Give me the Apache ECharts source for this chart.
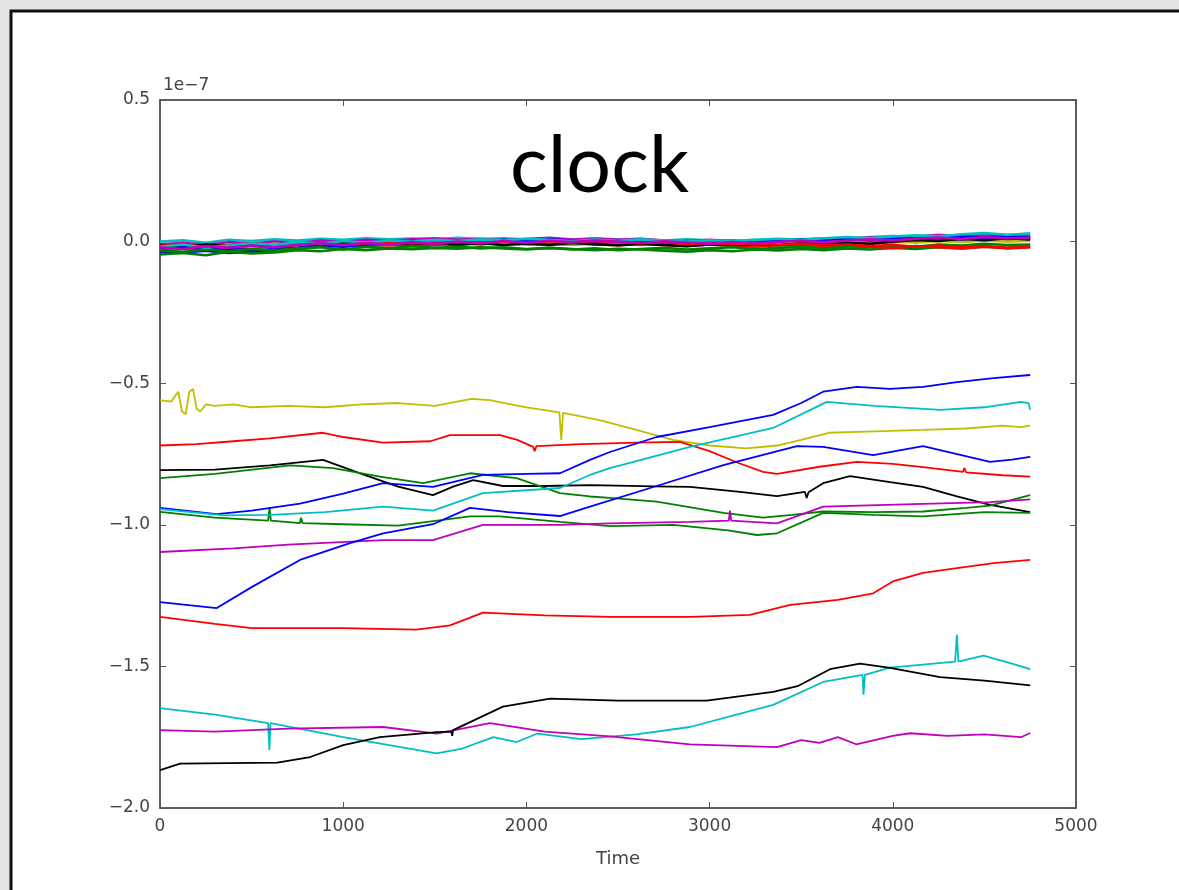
<!doctype html>
<html>
<head>
<meta charset="utf-8">
<title>clock</title>
<script src="https://cdn.jsdelivr.net/npm/echarts@6/dist/echarts.min.js"></script>
<style>
  html, body { margin: 0; padding: 0; background: #e4e4e6; }
  #main { width: 1179px; height: 890px; }
</style>
</head>
<body>
<div id="main"></div>
<script>
// values are in units of 1e-7
var xTicks = [0, 1000, 2000, 3000, 4000, 5000];
var yTicks = [-2.0, -1.5, -1.0, -0.5, 0.0, 0.5];

// time grid of the noisy band around zero
var bandTime = [0,125,250,375,500,625,750,875,1000,1125,1250,1375,1500,1625,1750,1875,2000,2125,2250,2375,
  2500,2625,2750,2875,3000,3125,3250,3375,3500,3625,3750,3875,4000,4125,4250,4375,4500,4625,4750];

var zb1 = [-0.035,-0.038,-0.032,-0.040,-0.036,-0.030,-0.024,-0.018,-0.012,-0.015,-0.010,-0.012,-0.008,-0.011,-0.006,-0.009,-0.004,-0.007,-0.010,-0.006,-0.008,-0.004,-0.009,-0.006,-0.003,-0.007,-0.004,-0.008,-0.012,-0.006,-0.003,0.002,-0.002,0.004,0.008,0.003,0.010,0.006,0.012];
var zg1 = [-0.045,-0.040,-0.048,-0.036,-0.042,-0.038,-0.030,-0.034,-0.026,-0.030,-0.024,-0.027,-0.022,-0.025,-0.020,-0.024,-0.028,-0.022,-0.026,-0.030,-0.025,-0.028,-0.032,-0.036,-0.030,-0.034,-0.028,-0.031,-0.026,-0.030,-0.024,-0.028,-0.022,-0.026,-0.020,-0.024,-0.018,-0.022,-0.016];
var zr1 = [-0.020,-0.025,-0.018,-0.028,-0.022,-0.015,-0.020,-0.012,-0.017,-0.010,-0.014,-0.008,-0.012,-0.006,-0.010,-0.004,-0.008,-0.011,-0.006,-0.010,-0.013,-0.008,-0.012,-0.015,-0.010,-0.014,-0.018,-0.012,-0.016,-0.020,-0.014,-0.018,-0.022,-0.016,-0.020,-0.024,-0.018,-0.022,-0.019];
var zc1 = [0.000,0.005,-0.004,0.006,0.002,0.008,0.004,0.010,0.006,0.012,0.008,0.011,0.007,0.013,0.009,0.012,0.008,0.010,0.006,0.011,0.007,0.009,0.004,0.008,0.005,0.002,0.006,0.003,0.008,0.012,0.010,0.016,0.020,0.018,0.024,0.020,0.026,0.022,0.028];
var zm1 = [-0.010,-0.004,-0.012,-0.002,-0.008,0.000,-0.006,0.004,-0.002,0.006,0.002,0.008,0.012,0.006,0.010,0.004,0.009,0.013,0.007,0.011,0.006,0.010,0.004,0.001,0.006,0.002,-0.002,0.003,0.000,0.006,0.010,0.014,0.012,0.018,0.022,0.016,0.024,0.020,0.018];
var zy1 = [-0.025,-0.015,-0.022,-0.010,-0.018,-0.008,-0.014,-0.005,-0.010,-0.003,-0.008,-0.002,-0.006,0.000,-0.004,-0.008,-0.002,-0.006,-0.010,-0.004,-0.008,-0.012,-0.006,-0.010,-0.004,-0.008,-0.012,-0.007,-0.002,-0.006,-0.001,-0.005,0.000,-0.004,0.002,-0.002,0.004,0.000,0.003];
var zk1 = [-0.012,-0.018,-0.010,-0.016,-0.008,-0.014,-0.006,-0.012,-0.004,-0.010,-0.002,-0.008,-0.004,-0.010,-0.006,-0.012,-0.007,-0.011,-0.005,-0.009,-0.013,-0.008,-0.012,-0.016,-0.010,-0.014,-0.009,-0.013,-0.006,-0.010,-0.004,-0.008,0.000,0.006,0.002,0.010,0.005,0.012,0.008];
var zb2 = [-0.028,-0.020,-0.030,-0.024,-0.032,-0.026,-0.022,-0.014,-0.018,-0.010,-0.004,0.002,-0.003,0.004,0.000,0.006,0.002,0.008,0.004,0.000,0.005,0.001,-0.003,0.002,-0.002,0.003,-0.001,0.004,0.008,0.004,0.010,0.006,0.012,0.016,0.011,0.018,0.014,0.020,0.016];
var zg2 = [-0.030,-0.036,-0.028,-0.034,-0.026,-0.032,-0.024,-0.020,-0.028,-0.018,-0.024,-0.016,-0.022,-0.018,-0.024,-0.020,-0.026,-0.022,-0.028,-0.024,-0.030,-0.026,-0.022,-0.028,-0.024,-0.020,-0.026,-0.022,-0.018,-0.024,-0.016,-0.020,-0.014,-0.018,-0.010,-0.014,-0.008,-0.012,-0.010];
var zr2 = [-0.015,-0.008,-0.020,-0.012,-0.006,-0.016,-0.010,-0.004,-0.012,-0.006,0.000,-0.006,-0.002,0.004,-0.002,0.002,-0.004,0.001,-0.003,0.002,-0.002,-0.006,-0.002,-0.008,-0.004,-0.010,-0.006,-0.012,-0.008,-0.014,-0.010,-0.016,-0.012,-0.018,-0.014,-0.020,-0.016,-0.024,-0.020];
var zc2 = [-0.018,-0.010,-0.022,-0.014,-0.006,-0.012,-0.002,-0.008,0.002,-0.004,0.004,0.000,0.006,0.002,0.008,0.004,0.010,0.006,0.002,0.007,0.003,0.008,0.004,0.000,0.005,0.001,0.006,0.010,0.006,0.012,0.016,0.012,0.018,0.022,0.018,0.026,0.030,0.024,0.028];
var zm2 = [-0.020,-0.026,-0.016,-0.022,-0.014,-0.020,-0.012,-0.006,-0.012,-0.004,-0.010,-0.002,-0.008,0.000,-0.006,0.002,-0.004,0.003,-0.002,0.004,0.000,-0.004,0.001,-0.003,-0.007,-0.002,-0.006,-0.001,0.003,-0.002,0.004,0.008,0.004,0.010,0.014,0.009,0.016,0.012,0.014];

// the separate drifting clocks, [time, value]
var yellow1 = [[0,-0.56],[60,-0.565],[100,-0.53],[120,-0.60],[140,-0.61],[160,-0.53],[180,-0.52],[200,-0.59],[220,-0.60],[250,-0.575],[300,-0.58],[400,-0.575],[500,-0.585],[700,-0.58],[900,-0.585],[1100,-0.575],[1300,-0.57],[1500,-0.58],[1700,-0.555],[1800,-0.56],[2000,-0.585],[2180,-0.603],[2190,-0.70],[2200,-0.605],[2400,-0.63],[2600,-0.665],[2800,-0.70],[3000,-0.72],[3200,-0.73],[3370,-0.72],[3500,-0.70],[3650,-0.675],[3900,-0.67],[4165,-0.665],[4400,-0.66],[4600,-0.65],[4700,-0.655],[4750,-0.65]];
var red1 = [[0,-0.72],[200,-0.715],[400,-0.705],[600,-0.695],[890,-0.675],[1000,-0.69],[1218,-0.71],[1475,-0.705],[1583,-0.683],[1856,-0.683],[1950,-0.70],[2037,-0.725],[2045,-0.74],[2055,-0.722],[2300,-0.715],[2600,-0.71],[2838,-0.707],[3000,-0.74],[3150,-0.78],[3292,-0.813],[3368,-0.82],[3600,-0.795],[3804,-0.778],[4000,-0.785],[4165,-0.796],[4383,-0.813],[4390,-0.80],[4400,-0.815],[4600,-0.825],[4750,-0.83]];
var black1 = [[0,-0.807],[300,-0.805],[600,-0.79],[890,-0.771],[1100,-0.82],[1300,-0.865],[1490,-0.895],[1600,-0.865],[1710,-0.842],[1872,-0.863],[2100,-0.863],[2347,-0.86],[2700,-0.864],[2893,-0.866],[3166,-0.884],[3368,-0.899],[3520,-0.884],[3530,-0.905],[3540,-0.885],[3620,-0.853],[3766,-0.828],[3985,-0.849],[4165,-0.866],[4350,-0.9],[4531,-0.93],[4750,-0.955]];
var green1 = [[0,-0.835],[300,-0.82],[710,-0.79],[945,-0.80],[1200,-0.83],[1436,-0.853],[1692,-0.818],[1947,-0.835],[2183,-0.888],[2347,-0.9],[2456,-0.905],[2711,-0.918],[3075,-0.958],[3292,-0.975],[3450,-0.965],[3620,-0.953],[3900,-0.955],[4165,-0.953],[4400,-0.94],[4531,-0.932],[4750,-0.895]];
var green2 = [[0,-0.954],[300,-0.975],[590,-0.985],[598,-0.94],[605,-0.985],[764,-0.994],[770,-0.975],[778,-0.994],[1000,-0.998],[1300,-1.003],[1692,-0.97],[1856,-0.97],[2183,-0.99],[2456,-1.005],[2803,-1.0],[3100,-1.02],[3258,-1.036],[3368,-1.03],[3620,-0.958],[3900,-0.965],[4165,-0.97],[4500,-0.955],[4750,-0.958]];
var blue1 = [[0,-0.94],[310,-0.962],[500,-0.95],[764,-0.925],[1000,-0.89],[1218,-0.853],[1490,-0.866],[1763,-0.824],[2000,-0.82],[2183,-0.818],[2347,-0.771],[2456,-0.743],[2711,-0.69],[3000,-0.655],[3347,-0.612],[3500,-0.57],[3620,-0.53],[3804,-0.513],[3985,-0.52],[4165,-0.513],[4350,-0.496],[4550,-0.482],[4750,-0.471]];
var cyan1 = [[0,-0.945],[350,-0.967],[600,-0.965],[900,-0.955],[1218,-0.936],[1490,-0.95],[1763,-0.888],[2183,-0.87],[2347,-0.824],[2456,-0.8],[2893,-0.725],[3347,-0.658],[3640,-0.566],[3900,-0.58],[4258,-0.594],[4500,-0.585],[4700,-0.566],[4740,-0.57],[4750,-0.594]];
var magenta1 = [[0,-1.096],[400,-1.083],[700,-1.07],[1218,-1.054],[1490,-1.054],[1763,-1.0],[2183,-1.0],[2456,-0.995],[2893,-0.99],[3105,-0.985],[3111,-0.95],[3118,-0.985],[3368,-0.995],[3620,-0.936],[4165,-0.926],[4531,-0.92],[4750,-0.91]];
var blue2 = [[0,-1.273],[310,-1.294],[500,-1.22],[764,-1.124],[1037,-1.065],[1218,-1.03],[1490,-0.998],[1692,-0.94],[1900,-0.955],[2183,-0.969],[2347,-0.936],[2711,-0.863],[3075,-0.789],[3477,-0.722],[3620,-0.725],[3893,-0.754],[4165,-0.722],[4531,-0.778],[4650,-0.77],[4750,-0.76]];
var red2 = [[0,-1.325],[300,-1.35],[500,-1.365],[1000,-1.365],[1400,-1.37],[1583,-1.355],[1763,-1.31],[2100,-1.32],[2456,-1.325],[2900,-1.325],[3220,-1.318],[3440,-1.283],[3700,-1.265],[3893,-1.242],[4000,-1.2],[4165,-1.17],[4350,-1.153],[4550,-1.135],[4750,-1.124]];
var cyan2 = [[0,-1.647],[300,-1.67],[590,-1.70],[597,-1.795],[603,-1.70],[1000,-1.75],[1510,-1.807],[1650,-1.79],[1820,-1.75],[1947,-1.767],[2060,-1.737],[2300,-1.757],[2600,-1.74],[2893,-1.714],[3347,-1.636],[3620,-1.555],[3835,-1.53],[3840,-1.60],[3848,-1.53],[3985,-1.504],[4340,-1.483],[4350,-1.388],[4358,-1.483],[4495,-1.462],[4650,-1.49],[4750,-1.51]];
var magenta2 = [[0,-1.725],[300,-1.73],[700,-1.72],[1218,-1.714],[1510,-1.737],[1801,-1.70],[2100,-1.73],[2456,-1.747],[2893,-1.775],[3368,-1.785],[3500,-1.76],[3600,-1.77],[3700,-1.75],[3800,-1.775],[3900,-1.76],[4000,-1.745],[4094,-1.736],[4300,-1.745],[4500,-1.74],[4700,-1.75],[4750,-1.735]];
var black2 = [[0,-1.866],[110,-1.843],[640,-1.84],[820,-1.82],[1000,-1.778],[1200,-1.75],[1510,-1.732],[1590,-1.73],[1595,-1.745],[1600,-1.725],[1872,-1.642],[2130,-1.614],[2500,-1.621],[2984,-1.621],[3347,-1.59],[3480,-1.57],[3657,-1.51],[3821,-1.49],[3985,-1.505],[4258,-1.538],[4500,-1.55],[4750,-1.567]];

var C = { b: '#0000ff', g: '#008000', r: '#ff0000', c: '#00bfbf', m: '#bf00bf', y: '#bfbf00', k: '#000000' };

var bands = [[zb1, C.b], [zg1, C.g], [zr1, C.r], [zc1, C.c], [zm1, C.m], [zy1, C.y], [zk1, C.k],
             [zb2, C.b], [zg2, C.g], [zr2, C.r], [zc2, C.c], [zm2, C.m]];
var clocks = [[yellow1, C.y], [red1, C.r], [black1, C.k], [green1, C.g], [green2, C.g], [blue1, C.b],
              [cyan1, C.c], [magenta1, C.m], [blue2, C.b], [red2, C.r], [cyan2, C.c], [magenta2, C.m], [black2, C.k]];

function fmt(v) {
    var s = Math.abs(v) < 1e-9 ? '0.0' : v.toFixed(1);
    return s.replace('-', '\u2212');
}

var series = [];
bands.forEach(function (b) {
    var pts = [];
    for (var i = 0; i < bandTime.length && i < b[0].length; i++) pts.push([bandTime[i], b[0][i]]);
    series.push({ type: 'line', data: pts, showSymbol: false, symbol: 'none',
        lineStyle: { color: b[1], width: 2.6 }, itemStyle: { color: b[1] }, z: 3 });
});
clocks.forEach(function (c) {
    series.push({ type: 'line', data: c[0], showSymbol: false, symbol: 'none',
        lineStyle: { color: c[1], width: 1.8 }, itemStyle: { color: c[1] }, z: 4 });
});

var axisGray = '#555555';
var labelStyle = { fontFamily: 'DejaVu Sans', fontSize: 17, color: '#444444' };
function frameAxis(extra) {
    return Object.assign({
        axisLine: { show: true, onZero: false, lineStyle: { color: axisGray, width: 1.5 } },
        axisTick: { show: true, inside: true, length: 6, lineStyle: { color: axisGray } },
        splitLine: { show: false }
    }, extra);
}

var myChart = echarts.init(document.getElementById('main'));
var option = {
    backgroundColor: '#e4e4e6',
    animation: false,
    grid: { left: 160, top: 100, width: 916, height: 708, show: true, borderColor: axisGray, borderWidth: 1.5 },
    graphic: [
        { type: 'rect', z: -10, shape: { x: 11, y: 11, width: 1200, height: 900 },
          style: { fill: '#ffffff', stroke: '#111111', lineWidth: 3 } },
        { type: 'text', left: 510, top: 127, z: 10,
          style: { text: 'clock', fontFamily: 'Lato', fontSize: 79, fill: '#000000' } },
        { type: 'text', left: 163, top: 77, z: 10,
          style: { text: '1e\u22127', fontFamily: 'DejaVu Sans', fontSize: 17, fill: '#444444' } }
    ],
    xAxis: [
        frameAxis({
            type: 'value', min: 0, max: 5000, interval: 1000,
            name: 'Time', nameLocation: 'middle', nameGap: 42,
            nameTextStyle: { fontFamily: 'DejaVu Sans', fontSize: 18, color: '#444444' },
            axisLabel: Object.assign({ margin: 10, formatter: function (v) { return String(v); } }, labelStyle)
        }),
        frameAxis({ type: 'value', position: 'top', min: 0, max: 5000, interval: 1000, axisLabel: { show: false } })
    ],
    yAxis: [
        frameAxis({
            type: 'value', min: -2.0, max: 0.5, interval: 0.5,
            axisLabel: Object.assign({ margin: 10, formatter: fmt }, labelStyle)
        }),
        frameAxis({ type: 'value', position: 'right', min: -2.0, max: 0.5, interval: 0.5, axisLabel: { show: false } })
    ],
    series: series
};
myChart.setOption(option);
</script>
</body>
</html>
